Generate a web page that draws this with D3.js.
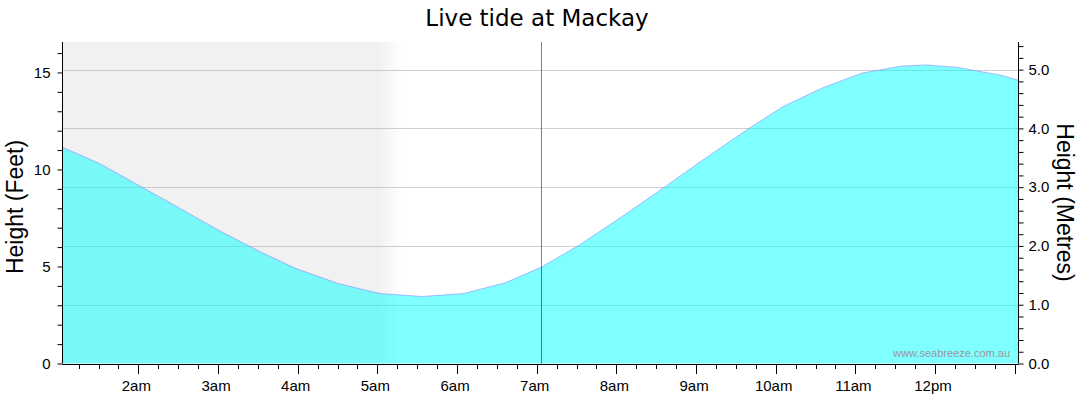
<!DOCTYPE html>
<html>
<head>
<meta charset="utf-8">
<script src="https://cdn.jsdelivr.net/npm/d3@7"></script>
<style>
  html, body { margin: 0; padding: 0; background: #fff; }
  svg { display: block; }
</style>
</head>
<body>
<script>
// ---- data ----
const title = "Live tide at Mackay";
const leftLabel = "Height (Feet)";
const rightLabel = "Height (Metres)";
const watermark = "www.seabreeze.com.au";

// time in decimal hours (local), tide height in metres
const tideTimes   = [1.045, 1.50, 2.02, 2.52, 3.03, 3.53, 3.97, 4.51, 5.03, 5.56, 6.08, 6.60, 7.06, 7.54, 8.04, 8.54, 9.04, 9.63, 10.09, 10.59, 11.08, 11.58, 11.89, 12.27, 12.81, 13.045];
const tideHeights = [3.68, 3.41, 3.02, 2.64, 2.25, 1.90, 1.62, 1.36, 1.19, 1.14, 1.19, 1.37, 1.64, 2.02, 2.47, 2.94, 3.42, 3.97, 4.37, 4.69, 4.94, 5.06, 5.08, 5.04, 4.91, 4.82];

const timeDomain = [1.045, 13.045];
const nowTime = 7.06;
const nightEnd = 5.02, nightFadeEnd = 5.30;

const hourTicks  = [2, 3, 4, 5, 6, 7, 8, 9, 10, 11, 12, 13];
const hourLabels = ["2am", "3am", "4am", "5am", "6am", "7am", "8am", "9am", "10am", "11am", "12pm", ""];
const feetTicks  = [0, 5, 10, 15];
const metreTicks = [0, 1, 2, 3, 4, 5];
const feetDomain  = [0, 16.57];
const metreDomain = [0, 5.47];

// ---- layout ----
const W = 1080, H = 414;
const L = 62.3, R = 1018.3, T = 42, B = 363.5;

const svg = d3.select("body").append("svg").attr("width", W).attr("height", H);

const x  = d3.scaleLinear().domain(timeDomain).range([L, R]);
const yF = d3.scaleLinear().domain(feetDomain).range([B, T]);
const yM = d3.scaleLinear().domain(metreDomain).range([B, T]);

// night shading with fade
const defs = svg.append("defs");
const grad = defs.append("linearGradient").attr("id", "nightGrad")
  .attr("gradientUnits", "userSpaceOnUse")
  .attr("x1", x(timeDomain[0])).attr("x2", x(nightFadeEnd)).attr("y1", 0).attr("y2", 0);
const stopFrac = (x(nightEnd) - x(timeDomain[0])) / (x(nightFadeEnd) - x(timeDomain[0]));
grad.append("stop").attr("offset", 0).attr("stop-color", "#f1f1f1");
grad.append("stop").attr("offset", stopFrac).attr("stop-color", "#f1f1f1");
grad.append("stop").attr("offset", 1).attr("stop-color", "#ffffff");
svg.append("rect")
  .attr("x", x(timeDomain[0])).attr("y", T)
  .attr("width", x(nightFadeEnd) - x(timeDomain[0])).attr("height", B - T)
  .attr("fill", "url(#nightGrad)");

// gridlines (metres)
svg.append("g").selectAll("line").data(metreTicks.filter(d => d > 0)).join("line")
  .attr("x1", L).attr("x2", R)
  .attr("y1", d => Math.round(yM(d)) + 0.5).attr("y2", d => Math.round(yM(d)) + 0.5)
  .attr("stroke", "#a0a0a0").attr("stroke-width", 1).attr("stroke-dasharray", "1,1");

// tide area
const pts = tideTimes.map((t, i) => [t, tideHeights[i]]);
const area = d3.area().x(d => x(d[0])).y0(yM(0)).y1(d => yM(d[1]));
const line = d3.line().x(d => x(d[0])).y(d => yM(d[1]));
svg.append("path").datum(pts).attr("d", area)
  .attr("fill", "#00ffff").attr("fill-opacity", 0.5);
svg.append("path").datum(pts).attr("d", line)
  .attr("fill", "none").attr("stroke", "#8c8cff").attr("stroke-opacity", 0.6).attr("stroke-width", 1);

// now line
svg.append("line")
  .attr("x1", Math.round(x(nowTime)) + 0.5).attr("x2", Math.round(x(nowTime)) + 0.5)
  .attr("y1", T).attr("y2", B)
  .attr("stroke", "#900000").attr("stroke-opacity", 0.6).attr("stroke-width", 1);

// watermark
svg.append("text").text(watermark)
  .attr("x", 1010).attr("y", 356.5).attr("text-anchor", "end")
  .attr("font-family", "'Liberation Sans', Arial, sans-serif").attr("font-size", 11)
  .attr("fill", "#999");

const tickFont = "'Liberation Sans', Arial, sans-serif";

// left axis (feet)
const leftAxis = d3.axisLeft(yF).tickValues(d3.range(0, 17, 1)).tickSize(5)
  .tickFormat(d => feetTicks.includes(d) ? String(d) : "");
const gL = svg.append("g").attr("transform", `translate(${Math.round(L) + 0.5},0)`).call(leftAxis);
gL.select(".domain").attr("d", `M0,${T}V${B}`).attr("stroke", "#000");
gL.selectAll(".tick line").attr("stroke", "#000");
gL.selectAll(".tick text").attr("font-family", tickFont).attr("font-size", 15).attr("fill", "#000").attr("x", -12);

// right axis (metres)
const rightAxis = d3.axisRight(yM).tickValues(d3.range(0, 28, 1).map(i => +(i * 0.2).toFixed(1))).tickSize(5)
  .tickFormat(d => metreTicks.includes(d) ? d.toFixed(1) : "");
const gR = svg.append("g").attr("transform", `translate(${Math.round(R) + 0.5},0)`).call(rightAxis);
gR.select(".domain").attr("d", `M0,${T}V${B}`).attr("stroke", "#000");
gR.selectAll(".tick line").attr("stroke", "#000");
gR.selectAll(".tick text").attr("font-family", tickFont).attr("font-size", 15).attr("fill", "#000").attr("x", 10);

// bottom axis (time)
const minorTimes = d3.range(Math.ceil(timeDomain[0] * 4), Math.floor(timeDomain[1] * 4) + 1).map(q => q / 4)
  .filter(t => !hourTicks.includes(t));
const gB = svg.append("g");
gB.append("line").attr("x1", L).attr("x2", R + 0.5).attr("y1", Math.round(B) + 0.5).attr("y2", Math.round(B) + 0.5)
  .attr("stroke", "#000");
gB.selectAll("line.minor").data(minorTimes).join("line").attr("class", "minor")
  .attr("x1", d => Math.round(x(d)) + 0.5).attr("x2", d => Math.round(x(d)) + 0.5)
  .attr("y1", Math.round(B)).attr("y2", Math.round(B) + 5).attr("stroke", "#000");
gB.selectAll("line.major").data(hourTicks).join("line").attr("class", "major")
  .attr("x1", d => Math.round(x(d)) + 0.5).attr("x2", d => Math.round(x(d)) + 0.5)
  .attr("y1", Math.round(B)).attr("y2", Math.round(B) + 10).attr("stroke", "#000");
gB.selectAll("text").data(hourTicks).join("text")
  .attr("x", d => x(d) - 2).attr("y", 391)
  .attr("text-anchor", "middle")
  .attr("font-family", tickFont).attr("font-size", 15).attr("fill", "#000")
  .text((d, i) => hourLabels[i]);

// axis titles
svg.append("text").text(leftLabel)
  .attr("transform", `translate(23,207) rotate(-90)`).attr("text-anchor", "middle")
  .attr("font-family", tickFont).attr("font-size", 23).attr("fill", "#000");
svg.append("text").text(rightLabel)
  .attr("transform", `translate(1057,202.5) rotate(90)`).attr("text-anchor", "middle")
  .attr("font-family", tickFont).attr("font-size", 23).attr("fill", "#000");

// chart title
svg.append("text").text(title)
  .attr("x", 537).attr("y", 26).attr("text-anchor", "middle")
  .attr("font-family", "'DejaVu Sans', Verdana, sans-serif").attr("font-size", 23).attr("fill", "#000");
</script>
</body>
</html>
